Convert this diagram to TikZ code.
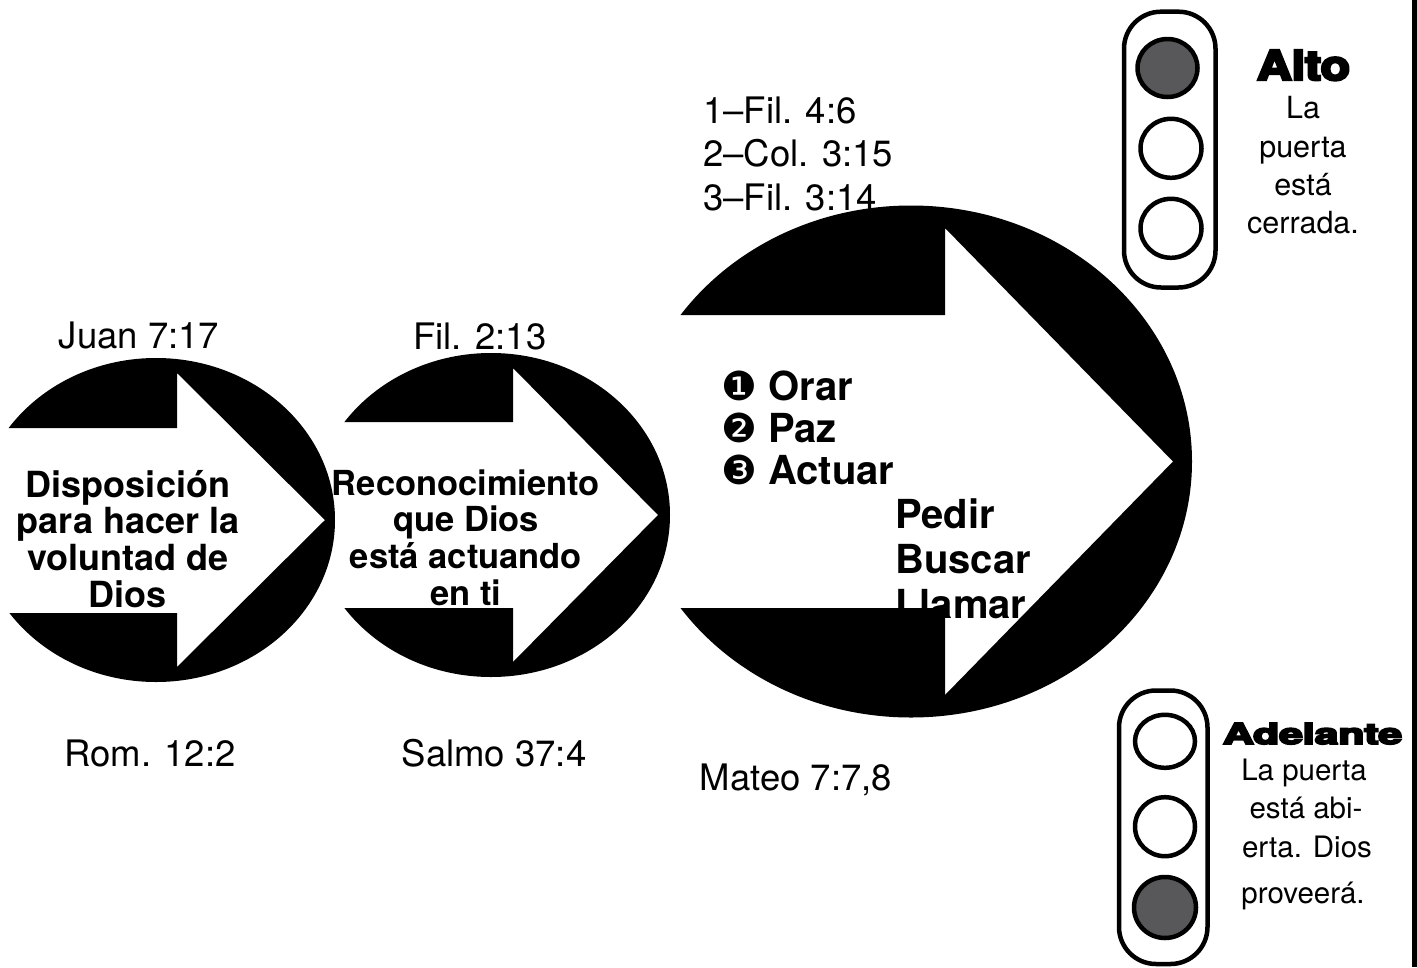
\documentclass[tikz,border=0pt]{standalone}
\usepackage{fontspec}
\usepackage{graphicx}
\setmainfont{TeX Gyre Heros}
\newfontfamily\dingfont{DejaVu Sans}
\newfontfamily\heavyfont{TeX Gyre Heros}[BoldFeatures={FakeBold=6}]
\definecolor{lampgray}{RGB}{88,88,90}
\begin{document}
\begin{tikzpicture}[x=1pt,y=-1pt,
  every node/.style={inner sep=0pt, anchor=base},
  reftext/.style={font=\fontsize{36.5}{40}\selectfont},
  boxone/.style={font=\fontsize{36}{40}\selectfont\bfseries},
  boxtwo/.style={font=\fontsize{34.5}{40}\selectfont\bfseries},
  boxthree/.style={font=\fontsize{40}{44}\selectfont\bfseries, anchor=base west},
  lamptext/.style={font=\fontsize{30.5}{36}\selectfont},
  lamptextb/.style={font=\fontsize{29.5}{36}\selectfont},
  casing/.style={line width=4.5pt, rounded corners=37pt},
  lampon/.style={draw=black, line width=4.5pt, fill=lampgray},
  lampoff/.style={draw=black, line width=4.5pt, fill=white},
  door/.style={fill=black}]
\useasboundingbox (0,0) rectangle (1417,967);

% ---------- texts (drawn first: the black shapes cover parts of them)
\node[reftext] (juan) at (139,348) {Juan 7:17};
\node[reftext] (fil) at (480,349) {Fil. 2:13};
\node[reftext] (rom) at (150,766) {Rom. 12:2};
\node[reftext] (salmo) at (494,766) {Salmo 37:4};
\node[reftext] (mateo) at (796,790) {Mateo 7:7,8};
\node[reftext, anchor=base west] (ref1) at (703,123) {1--Fil. 4:6};
\node[reftext, anchor=base west] (ref2) at (703,166.5) {2--Col. 3:15};
\node[reftext, anchor=base west] (ref3) at (703,210) {3--Fil. 3:14};

\node[boxone] (d1) at (128,497) {Disposición};
\node[boxone] (d2) at (128,533) {para hacer la};
\node[boxone] (d3) at (128,570) {voluntad de};
\node[boxone] (d4) at (128,607) {Dios};

\node[boxtwo] (c1) at (466,495) {Reconocimiento};
\node[boxtwo] (c2) at (466,531.5) {que Dios};
\node[boxtwo] (c3) at (466,568) {está actuando};
\node[boxtwo] (c4) at (466,605) {en ti};

\node[boxthree] (o1) at (721,400) {{\dingfont\mdseries ❶} Orar};
\node[boxthree] (o2) at (721,442) {{\dingfont\mdseries ❷} Paz};
\node[boxthree] (o3) at (721,484) {{\dingfont\mdseries ❸} Actuar};
\node[boxthree] (p1) at (895,528.5) {Pedir};
\node[boxthree] (p2) at (895,573.5) {Buscar};
\node[boxthree] (p3) at (895,618.5) {Llamar};

% ---------- the three black ellipses with an arrow cut out
\begin{scope}[even odd rule]
  \clip (-100,-100) rectangle (1500,1100)
    (-40,428) -- (177,428) -- (177,373) -- (325,520) -- (177,667) -- (177,613) -- (-40,613) -- cycle;
  \path[door] (156,520) ellipse [x radius=179pt, y radius=162pt];
\end{scope}
\begin{scope}[even odd rule]
  \clip (-100,-100) rectangle (1500,1100)
    (300,422) -- (513,422) -- (513,368) -- (658,515) -- (513,662) -- (513,608) -- (300,608) -- cycle;
  \path[door] (491,515) ellipse [x radius=179pt, y radius=162pt];
\end{scope}
\begin{scope}[even odd rule]
  \clip (-100,-100) rectangle (1500,1100)
    (600,315) -- (945,315) -- (945,228) -- (1173,461.5) -- (945,695) -- (945,608) -- (600,608) -- cycle;
  \path[door] (911,461.5) ellipse [x radius=281pt, y radius=256pt];
\end{scope}

% ---------- traffic light: Alto
\draw[casing] (1124,11.7) rectangle (1215.5,287.5);
\path[lampon] (1167.5,68) ellipse [x radius=30pt, y radius=29pt];
\path[lampoff] (1171,148.3) ellipse [x radius=30.5pt, y radius=29.5pt];
\path[lampoff] (1171,228.3) ellipse [x radius=30.5pt, y radius=29.5pt];
\node (alto) at (1303.5,80) {\resizebox{93pt}{30pt}{\heavyfont\bfseries Alto}};
\node[lamptext] (a1) at (1303,118) {La};
\node[lamptext] (a2) at (1303,157) {puerta};
\node[lamptext] (a3) at (1303,195) {está};
\node[lamptext] (a4) at (1303,233) {cerrada.};

% ---------- traffic light: Adelante
\draw[casing] (1119,690.5) rectangle (1207.5,964);
\path[lampoff] (1165,741.3) ellipse [x radius=30pt, y radius=26.5pt];
\path[lampoff] (1165,826.7) ellipse [x radius=30pt, y radius=29.5pt];
\path[lampon] (1165,907.5) ellipse [x radius=31pt, y radius=30.5pt];
\node (adelante) at (1312.5,744) {\resizebox{179pt}{21pt}{\heavyfont\bfseries Adelante}};
\node[lamptextb] (b1) at (1304,780) {La puerta};
\node[lamptextb] (b2) at (1306,818) {está abi-};
\node[lamptextb] (b3) at (1307,857) {erta. Dios};
\node[lamptextb] (b4) at (1303,903) {proveerá.};

% ---------- right border
\fill[black] (1412,0) rectangle (1417,967);
\end{tikzpicture}
\end{document}
